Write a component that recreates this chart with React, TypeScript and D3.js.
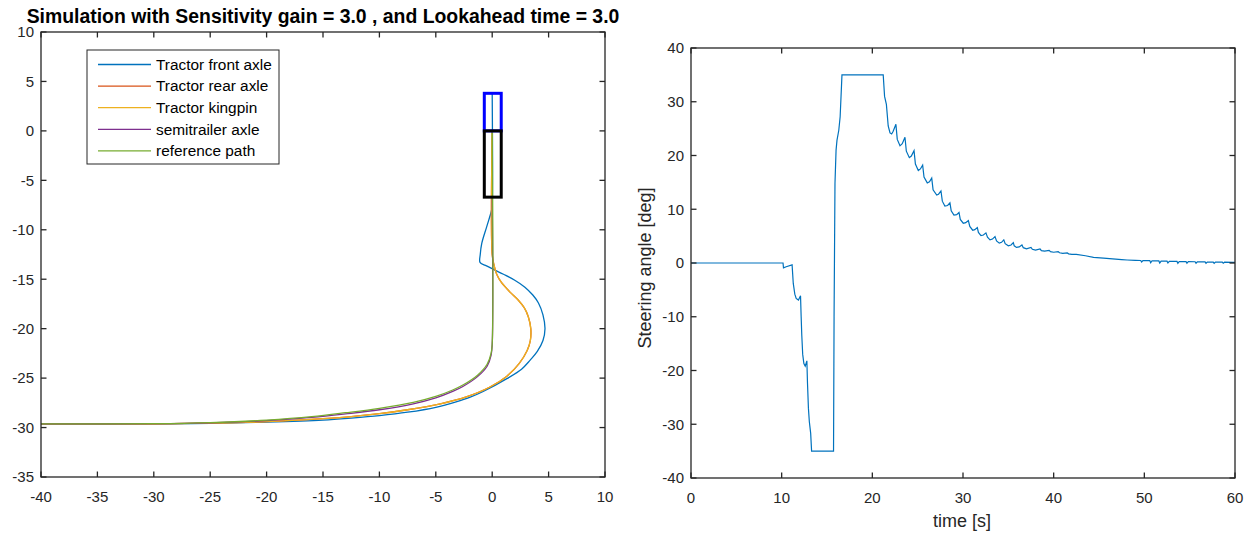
import React from "react";
import * as d3 from "d3";

type P = [number, number];

// ---------- Left plot data (x [m], y [m]) ----------
const frontAxle: P[] = [
  [0, 3.8], [0, -7.5], [-0.05, -8.0], [-0.49, -9.7], [-0.93, -11.4], [-1.06, -12.5], [-1.08, -13.3],
  [-0.6, -13.6], [0.1, -14.0], [1.0, -14.5], [2.0, -15.1], [2.9, -15.8], [3.6, -16.6], [4.1, -17.4],
  [4.5, -18.6], [4.68, -20.0], [4.5, -21.2], [4.0, -22.3], [3.35, -23.2], [2.6, -24.1], [1.3, -25.05],
  [-0.8, -26.35], [-2, -26.95], [-3.2, -27.4], [-5, -27.95], [-7.5, -28.45], [-10, -28.8], [-12.5, -29.05],
  [-15, -29.25], [-20, -29.45], [-25, -29.57], [-30, -29.62], [-40, -29.63],
];
const rearAxle: P[] = [
  [0, 0], [0, -12.5], [0.15, -13.5], [0.4, -14.5], [0.8, -15.3], [1.58, -16.3], [2.3, -17.1],
  [2.85, -17.9], [3.2, -18.8], [3.42, -20.0], [3.38, -21.2], [3.1, -22.2], [2.4, -23.5], [1.3, -24.8],
  [-0.2, -25.9], [-2.3, -26.9], [-4.6, -27.6], [-7.5, -28.2], [-10, -28.6], [-12.5, -28.9],
  [-15, -29.1], [-20, -29.4], [-25, -29.55], [-30, -29.62], [-40, -29.63],
];
const kingpin: P[] = [
  [0, 0], [0, -12.5], [0.15, -13.5], [0.4, -14.5], [0.8, -15.3], [1.58, -16.3], [2.3, -17.1],
  [2.85, -17.9], [3.2, -18.8], [3.42, -20.0], [3.38, -21.2], [3.1, -22.2], [2.4, -23.5], [1.3, -24.8],
  [-0.2, -25.9], [-2.3, -26.9], [-4.6, -27.6], [-7.5, -28.2], [-10, -28.6], [-12.5, -28.9],
  [-15, -29.1], [-20, -29.4], [-25, -29.55], [-30, -29.62], [-40, -29.63],
];
const semitrailerAxle: P[] = [
  [0, -6.7], [0, -21.6], [-0.1, -22.7], [-0.45, -23.8], [-1.3, -24.85], [-2.6, -25.85], [-3.5, -26.35],
  [-5, -27.0], [-7, -27.6], [-10, -28.2], [-13, -28.62], [-16, -28.98], [-20, -29.3], [-25, -29.52],
  [-30, -29.61], [-40, -29.63],
];
const referencePath: P[] = [
  [0, 0], [0, -21.5], [-0.1, -22.5], [-0.45, -23.6], [-1.3, -24.7], [-2.6, -25.7], [-3.5, -26.2],
  [-5, -26.85], [-7, -27.45], [-10, -28.05], [-13, -28.5], [-16, -28.9], [-20, -29.25], [-25, -29.5],
  [-30, -29.61], [-40, -29.63],
];
const seriesNames = ["Tractor front axle", "Tractor rear axle", "Tractor kingpin", "semitrailer axle", "reference path"];
const seriesColors = ["#0072BD", "#D95319", "#EDB120", "#7E2F8E", "#77AC30"];
const tractorBox = { x0: -0.7, x1: 0.8, y0: 0, y1: 3.8 };
const trailerBox = { x0: -0.7, x1: 0.8, y0: -6.7, y1: 0 };
const leftXTicks = [-40, -35, -30, -25, -20, -15, -10, -5, 0, 5, 10];
const leftYTicks = [-35, -30, -25, -20, -15, -10, -5, 0, 5, 10];

// ---------- Right plot data (time [s], steering angle [deg]) ----------
const steering: P[] = [
  [0, 0], [10.15, 0], [10.2, -0.9], [10.5, -0.7], [11.15, -0.35], [11.28, -3.8], [11.45, -5.8],
  [11.6, -6.6], [11.85, -6.9], [12.08, -6.1], [12.15, -10], [12.22, -13.5], [12.32, -17], [12.45, -18.7],
  [12.6, -19.2], [12.78, -18.2], [12.85, -22.4], [12.95, -27], [13.05, -29.5], [13.2, -31.7], [13.3, -35],
  [15.72, -35], [15.78, -10], [15.88, 14.8], [16.0, 21], [16.1, 22.8], [16.3, 24.7], [16.45, 27.2],
  [16.6, 33], [16.65, 35], [21.2, 35], [21.35, 31], [21.55, 29.5], [21.75, 25.5], [21.95, 24.2],
  [22.13, 24.0], [22.3, 24.5], [22.6, 25.8], [22.75, 23.0], [23.05, 21.8], [23.3, 22.2], [23.6, 23.4],
  [23.75, 20.8], [24.08, 19.6], [24.3, 19.9], [24.6, 20.9], [24.75, 18.4], [25.07, 17.2], [25.3, 17.5],
  [25.55, 18.2], [25.7, 16.0], [26.06, 14.9], [26.3, 15.1], [26.55, 15.8], [26.7, 13.6], [27.1, 12.65],
  [27.3, 12.8], [27.57, 13.4], [27.72, 11.5], [28.0, 10.6], [28.3, 10.7], [28.56, 11.2], [28.7, 9.7],
  [29.0, 8.9], [29.3, 9.0], [29.56, 9.4], [29.7, 8.1], [30.03, 7.4], [30.3, 7.5], [30.59, 7.9],
  [30.75, 6.8], [31.07, 6.1], [31.3, 6.2], [31.58, 6.6], [31.7, 5.7], [31.98, 5.1], [32.25, 5.2],
  [32.53, 5.6], [32.7, 4.8], [32.98, 4.3], [33.25, 4.45], [33.53, 4.9], [33.7, 4.1], [34.0, 3.7],
  [34.25, 3.85], [34.5, 4.3], [34.65, 3.6], [35.0, 3.2], [35.3, 3.35], [35.55, 3.8], [35.65, 3.2],
  [35.9, 2.9], [36.2, 3.0], [36.5, 3.35], [36.65, 2.85], [37.0, 2.65], [37.5, 2.9], [37.65, 2.55],
  [38.0, 2.4], [38.5, 2.6], [38.65, 2.3], [39.0, 2.2], [39.5, 2.35], [39.65, 2.1], [40.0, 2.0],
  [40.5, 2.1], [40.65, 1.9], [41.0, 1.8], [41.5, 1.88], [41.65, 1.7], [42.0, 1.6], [42.5, 1.62],
  [43.5, 1.35], [44.4, 1.06], [45.5, 0.9], [46.5, 0.75], [47.5, 0.62], [48.1, 0.56], [49.0, 0.5],
  [49.6, 0.47], [49.7, 0.2], [49.85, 0.46], [50.6, 0.44], [50.7, 0.05], [50.85, 0.42], [51.6, 0.38],
  [51.7, 0.0], [51.85, 0.36], [52.5, 0.34], [52.6, 0.0], [52.75, 0.32], [53.6, 0.3], [53.7, -0.05],
  [53.85, 0.28], [54.6, 0.26], [54.7, -0.05], [54.85, 0.25], [55.6, 0.23], [55.7, -0.05], [55.85, 0.22],
  [56.7, 0.2], [56.8, -0.05], [56.95, 0.19], [57.6, 0.18], [57.7, -0.05], [57.85, 0.17], [58.6, 0.16],
  [58.7, -0.05], [58.85, 0.15], [59.8, 0.13], [60, 0.12],
];
const rightXTicks = [0, 10, 20, 30, 40, 50, 60];
const rightYTicks = [-40, -30, -20, -10, 0, 10, 20, 30, 40];

const FONT = "'Liberation Sans', Arial, Helvetica, sans-serif";
const AX = "#262626";

function Axes({ x, y, xTicks, yTicks }: any) {
  const [x0, x1] = x.range();
  const [y0, y1] = y.range(); // y0 bottom, y1 top
  const tl = 5.5;
  return (
    <g>
      <rect x={x0} y={y1} width={x1 - x0} height={y0 - y1} fill="none" stroke={AX} strokeWidth={1.3} />
      {xTicks.map((t: number) => (
        <g key={"x" + t}>
          <line x1={x(t)} x2={x(t)} y1={y0} y2={y0 - tl} stroke={AX} strokeWidth={1.3} />
          <line x1={x(t)} x2={x(t)} y1={y1} y2={y1 + tl} stroke={AX} strokeWidth={1.3} />
          <text x={x(t)} y={y0 + 25} textAnchor="middle" fontSize={15} fill={AX} fontFamily={FONT}>{t}</text>
        </g>
      ))}
      {yTicks.map((t: number) => (
        <g key={"y" + t}>
          <line x1={x0} x2={x0 + tl} y1={y(t)} y2={y(t)} stroke={AX} strokeWidth={1.3} />
          <line x1={x1} x2={x1 - tl} y1={y(t)} y2={y(t)} stroke={AX} strokeWidth={1.3} />
          <text x={x0 - 7} y={y(t) + 5.3} textAnchor="end" fontSize={15} fill={AX} fontFamily={FONT}>{t}</text>
        </g>
      ))}
    </g>
  );
}

export default function App() {
  const xL = d3.scaleLinear().domain([-40, 10]).range([41, 605]);
  const yL = d3.scaleLinear().domain([-35, 10]).range([477, 32]);
  const xR = d3.scaleLinear().domain([0, 60]).range([691, 1235]);
  const yR = d3.scaleLinear().domain([-40, 40]).range([478, 48]);

  const lineL = d3.line<P>().x((d) => xL(d[0])).y((d) => yL(d[1])).curve(d3.curveCatmullRom.alpha(0.5));
  const lineR = d3.line<P>().x((d) => xR(d[0])).y((d) => yR(d[1]));

  const leftSeries = [frontAxle, rearAxle, kingpin, semitrailerAxle, referencePath];
  const boxRect = (b: any) => ({ x: xL(b.x0), y: yL(b.y1), width: xL(b.x1) - xL(b.x0), height: yL(b.y0) - yL(b.y1) });
  const tb = boxRect(tractorBox);
  const trb = boxRect(trailerBox);

  return (
    <svg width={1252} height={533} style={{ position: "absolute", left: 0, top: 0, background: "#fff" }}>
      <rect x={0} y={0} width={1252} height={533} fill="#fff" />
      <defs>
        <clipPath id="clipL"><rect x={41} y={32} width={564} height={445} /></clipPath>
        <clipPath id="clipR"><rect x={691} y={48} width={544} height={430} /></clipPath>
      </defs>
      {/* Left plot */}
      <g clipPath="url(#clipL)">
        {leftSeries.map((s, i) => (
          <path key={i} d={lineL(s) || ""} fill="none" stroke={seriesColors[i]} strokeWidth={1.3} />
        ))}
        <rect {...tb} fill="none" stroke="#0000FF" strokeWidth={3} />
        <rect {...trb} fill="none" stroke="#000" strokeWidth={3} />
      </g>
      <Axes x={xL} y={yL} xTicks={leftXTicks} yTicks={leftYTicks} />
      <text x={323} y={23} textAnchor="middle" fontSize={19.4} fontWeight="bold" fill="#000" fontFamily={FONT}>
        Simulation with Sensitivity gain = 3.0 , and Lookahead time = 3.0
      </text>
      {/* Legend */}
      <g>
        <rect x={87} y={50} width={192} height={114} fill="#fff" stroke={AX} strokeWidth={1} />
        {seriesNames.map((n, i) => (
          <g key={n}>
            <line x1={98} x2={151} y1={64.5 + i * 21.6} y2={64.5 + i * 21.6} stroke={seriesColors[i]} strokeWidth={1.3} />
            <text x={156} y={64.5 + i * 21.6 + 5.3} fontSize={15.4} fill="#000" fontFamily={FONT}>{n}</text>
          </g>
        ))}
      </g>

      {/* Right plot */}
      <g clipPath="url(#clipR)">
        <path d={lineR(steering) || ""} fill="none" stroke="#0072BD" strokeWidth={1.2} />
      </g>
      <Axes x={xR} y={yR} xTicks={rightXTicks} yTicks={rightYTicks} />
      <text x={962} y={527} textAnchor="middle" fontSize={18} fill={AX} fontFamily={FONT}>time [s]</text>
      <text transform={`translate(651,268) rotate(-90)`} textAnchor="middle" fontSize={18} fill={AX} fontFamily={FONT}>
        Steering angle [deg]
      </text>
    </svg>
  );
}
